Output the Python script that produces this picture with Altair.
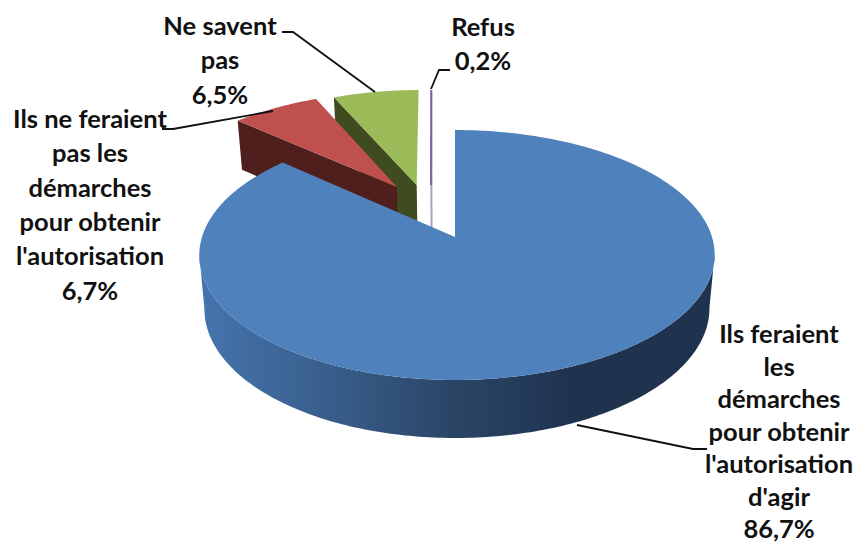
import numpy as np
import altair as alt

# ---- values ----
categories = ["Ils feraient les démarches pour obtenir l'autorisation d'agir",
              "Ils ne feraient pas les démarches pour obtenir l'autorisation",
              "Ne savent pas", "Refus"]
shares = [86.7, 6.7, 6.5, 0.2]
labels = ["Ils feraient\nles\ndémarches\npour obtenir\nl'autorisation\nd'agir\n86,7%",
          "Ils ne feraient\npas les\ndémarches\npour obtenir\nl'autorisation\n6,7%",
          "Ne savent\npas\n6,5%",
          "Refus\n0,2%"]

# ---- styles and layout ----
top_colors = ["#4f81bd", "#c0504d", "#9bbb59", "#8064a2"]
cut_colors = ["#1f3550", "#4f1f1d", "#3f4c20", "#a9a2c4"]
label_lon = [779, 90, 220, 483]
label_lat = [335, 120, 27, 28]
explode = [(0.0, 0.0), (-0.242, -0.434), (-0.16, -0.4525), (-0.10, -0.45)]
leaders = [[(707, 449), (693, 449), (577, 425)],
           [(162, 129), (173, 129), (273, 111)],
           [(282, 32), (293, 32), (375, 92)],
           [(450, 70), (439, 70), (431, 89)]]

AX, AY = 455.0, 237.0   # projected pie centre
A, B, K = 255.0, 122.4, 0.144  # perspective of the pie plane
SX, SY, H = 0.98, 1.035, 53.0  # lower rim relative to the upper rim


def top(u, v, skew=0.0):
    d = 1 - K * v
    return A * u / d + skew * u * u, B * v / d


def rim(th, off, skew=0.0):
    return top(np.sin(th) + off[0], -np.cos(th) + off[1], skew)


def lower(p):
    return p[0] * SX, p[1] * SY + H


def px(p):
    return [float(p[0] + AX), float(p[1] + AY)]


def poly(pts):
    pts = list(pts) + [pts[0]]
    return {"type": "Feature", "properties": {},
            "geometry": {"type": "Polygon", "coordinates": [pts]}}


def line(pts):
    return {"type": "Feature", "properties": {},
            "geometry": {"type": "LineString", "coordinates": [list(map(float, p)) for p in pts]}}


proj = alt.Projection(type="identity", scale=1, translate=[-8, -8])


def shape(feature, **kw):
    return alt.Chart(alt.Data(values=[feature])).mark_geoshape(**kw).project(**proj.to_dict())


total = sum(shares)
edges = np.cumsum([0] + shares) / total * 2 * np.pi
edges[-1] = 2 * np.pi

wall_gradient = alt.LinearGradient(
    gradient="linear", x1=0, x2=1, y1=0, y2=0,
    stops=[alt.GradientStop(offset=0.0, color="#4574ad"),
           alt.GradientStop(offset=0.19, color="#3c6494"),
           alt.GradientStop(offset=0.49, color="#2b4567"),
           alt.GradientStop(offset=0.72, color="#1f334f"),
           alt.GradientStop(offset=1.0, color="#1f334f")])

layers = []
for i in [3, 2, 1, 0]:
    a0, a1 = edges[i], edges[i + 1]
    off = explode[i]
    skew = 2.0 if i == 0 else 0.0
    ths = np.linspace(a0, a1, max(4, int((a1 - a0) * 60)))
    arc = [rim(t, off, skew) for t in ths]
    apex = top(off[0], off[1])
    if i == 0:
        low = [lower(p) for p in arc]
        xs_top = [p[0] for p in arc]
        xs_low = [p[0] for p in low]
        r_t, l_t = int(np.argmax(xs_top)), int(np.argmin(xs_top))
        r_b, l_b = int(np.argmax(xs_low)), int(np.argmin(xs_low))
        band = [px(p) for p in arc[r_t:l_t + 1]] + [px(p) for p in low[r_b:l_b + 1][::-1]]
        layers.append(shape(poly(band), fill=wall_gradient, strokeWidth=0))
    elif i == 3:
        layers.append(shape(line([px(arc[0]), px(lower(apex))]),
                            filled=False, stroke=cut_colors[3], strokeWidth=2))
        layers.append(shape(line([px(arc[0]), px(apex)]),
                            filled=False, stroke=top_colors[3], strokeWidth=2))
        continue
    else:
        c = arc[0]
        cut = [px(c), px(apex), px(lower(apex)), px(lower(c))]
        layers.append(shape(poly(cut), fill=cut_colors[i], strokeWidth=0))
    face = [px(apex)] + [px(p) for p in arc]
    layers.append(shape(poly(face), fill=top_colors[i], strokeWidth=0))

for pts in leaders:
    layers.append(shape(line(pts), filled=False, stroke="#111111", strokeWidth=1.8))


def text_layer(idx, lh):
    return alt.Chart(alt.Data(values=[
        {"label": labels[j], "lon": label_lon[j], "lat": label_lat[j]} for j in idx
    ])).mark_text(font="Lato", fontWeight="bold", fontSize=25.5, lineBreak="\n", lineHeight=lh,
                  align="center", baseline="middle", color="#111111").encode(
        longitude="lon:Q", latitude="lat:Q", text="label:N"
    ).project(**proj.to_dict())


layers.append(text_layer([0], 32.5))
layers.append(text_layer([1, 2, 3], 34.3))

chart = alt.layer(*layers).properties(
    width=846, height=534, padding=0,
    autosize=alt.AutoSizeParams(type="none"),
    background="white",
).configure_view(stroke=None)

chart.save("out.html", embed_options={"renderer": "svg", "actions": False})
